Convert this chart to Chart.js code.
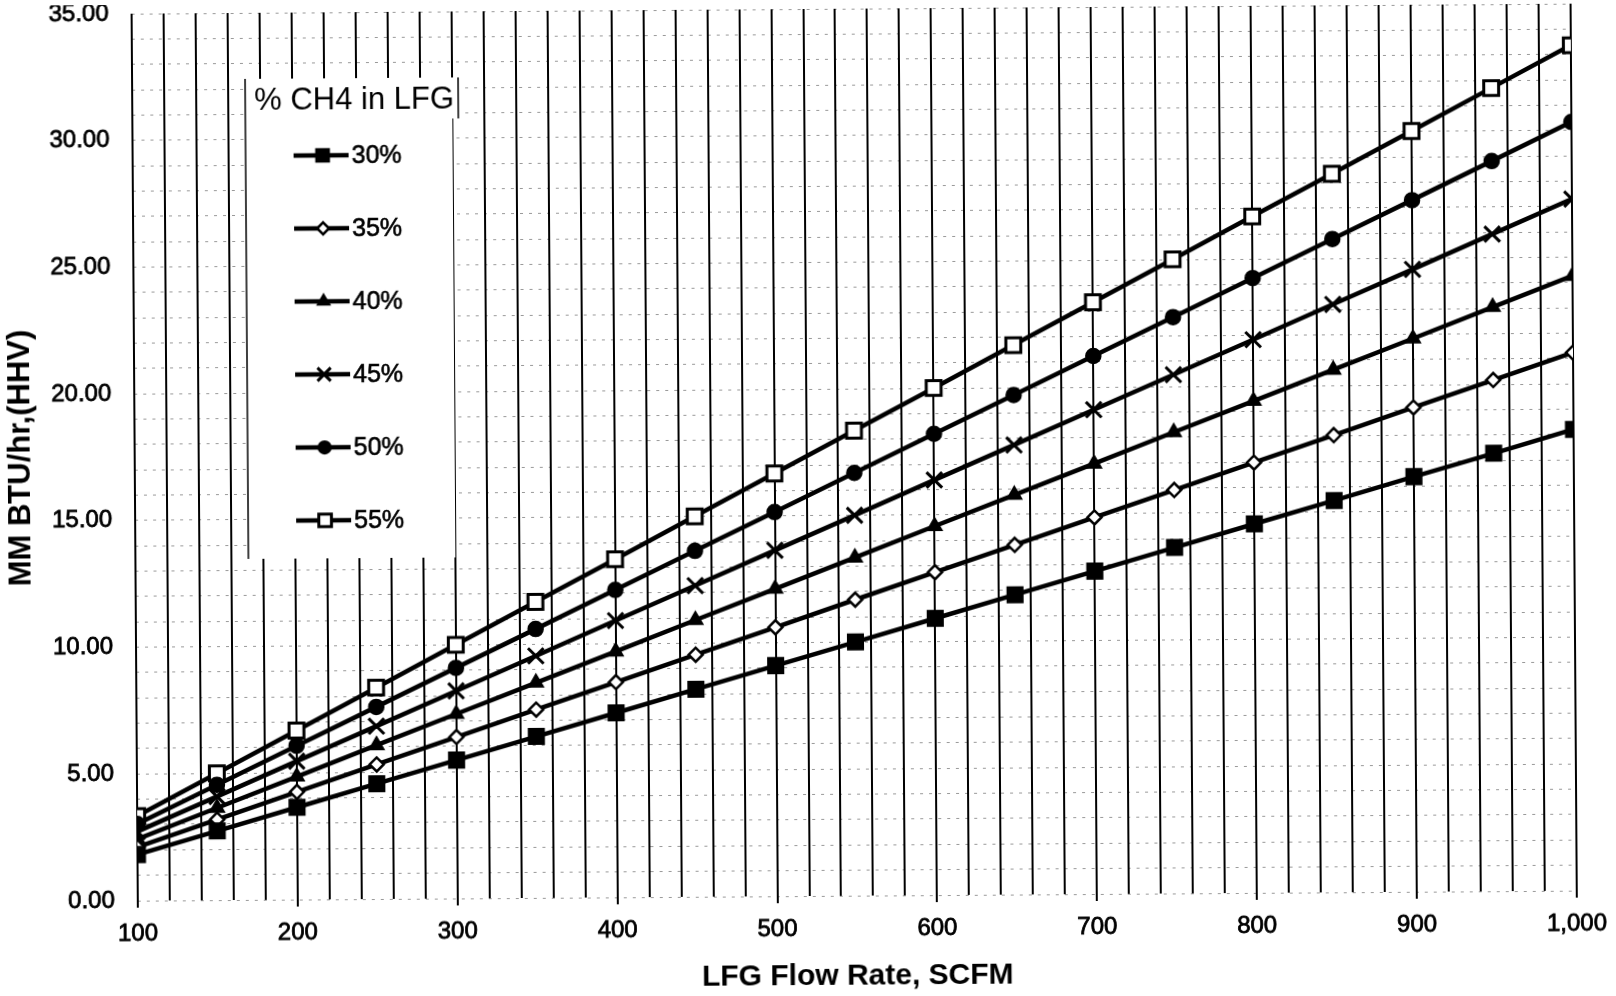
<!DOCTYPE html>
<html>
<head>
<meta charset="utf-8">
<title>LFG Heat Content</title>
<script src="https://cdn.jsdelivr.net/npm/chart.js@4.4.1/dist/chart.umd.min.js"></script>
<style>
  html, body { margin: 0; padding: 0; background: #fff; overflow: hidden; }
  /* the printed sheet sits slightly askew */
  #chart { display: block; transform: rotate(-0.4deg); }
</style>
</head>
<body>
<canvas id="chart" width="1616" height="996"></canvas>
<script>
// LFG flow rate (SCFM)
const flowRates = [100, 150, 200, 250, 300, 350, 400, 450, 500, 550, 600, 650, 700, 750, 800, 850, 900, 950, 1000];

// heat content, MM BTU/hr (HHV), by % methane
const ch4Labels = ['30%', '35%', '40%', '45%', '50%', '55%'];
const ch4_30 = [1.82, 2.73, 3.64, 4.55, 5.46, 6.37, 7.28, 8.19, 9.10, 10.01, 10.92, 11.83, 12.74, 13.65, 14.56, 15.46, 16.38, 17.28, 18.20];
const ch4_35 = [2.12, 3.18, 4.25, 5.31, 6.37, 7.43, 8.49, 9.55, 10.61, 11.68, 12.74, 13.80, 14.86, 15.92, 16.98, 18.04, 19.11, 20.17, 21.23];
const ch4_40 = [2.43, 3.64, 4.85, 6.07, 7.28, 8.49, 9.70, 10.92, 12.13, 13.34, 14.56, 15.77, 16.98, 18.20, 19.41, 20.62, 21.83, 23.05, 24.26];
const ch4_45 = [2.73, 4.09, 5.46, 6.82, 8.19, 9.55, 10.92, 12.28, 13.65, 15.01, 16.38, 17.74, 19.11, 20.47, 21.83, 23.20, 24.56, 25.93, 27.29];
const ch4_50 = [3.03, 4.55, 6.07, 7.58, 9.10, 10.61, 12.13, 13.65, 15.16, 16.68, 18.20, 19.71, 21.23, 22.74, 24.26, 25.78, 27.29, 28.81, 30.33];
const ch4_55 = [3.34, 5.00, 6.67, 8.34, 10.01, 11.68, 13.34, 15.01, 16.68, 18.35, 20.01, 21.68, 23.35, 25.02, 26.69, 28.35, 30.02, 31.69, 33.36];

const FONT = '"Liberation Sans", Arial, Helvetica, sans-serif';
Chart.defaults.font.family = FONT;
Chart.defaults.color = '#000';

// marker look per series
const markers = [
  { style: 'rect',     radius: 11,  fill: '#000', width: 1.5 },
  { style: 'rectRot',  radius: 7,   fill: '#fff', width: 2.5 },
  { style: 'triangle', radius: 8.5, fill: '#000', width: 1.5 },
  { style: 'crossRot', radius: 11,  fill: '#000', width: 3 },
  { style: 'circle',   radius: 7.5, fill: '#000', width: 1.5 },
  { style: 'rect',     radius: 10.5, fill: '#fff', width: 3 }
];

const seriesValues = [ch4_30, ch4_35, ch4_40, ch4_45, ch4_50, ch4_55];

const datasets = seriesValues.map((values, i) => ({
  label: ch4Labels[i],
  data: flowRates.map((f, j) => ({ x: f, y: values[j] })),
  borderColor: '#000',
  borderWidth: 4.5,
  tension: 0,
  pointStyle: markers[i].style,
  pointRadius: markers[i].radius,
  pointBackgroundColor: markers[i].fill,
  pointBorderColor: '#000',
  pointBorderWidth: markers[i].width
}));

// boxed legend sitting inside the plot, upper left
const legendBox = {
  id: 'legendBox',
  afterDraw(chart) {
    const ctx = chart.ctx;
    ctx.save();
    ctx.fillStyle = '#fff';
    ctx.fillRect(248, 75, 214, 41);
    ctx.fillRect(248, 115, 207, 440);

    ctx.strokeStyle = '#000';
    ctx.lineWidth = 1.5;
    ctx.beginPath();
    ctx.moveTo(248, 75);
    ctx.lineTo(248, 555);
    ctx.moveTo(461, 75);
    ctx.lineTo(461, 116);
    ctx.stroke();

    ctx.fillStyle = '#000';
    ctx.textBaseline = 'middle';
    ctx.textAlign = 'left';
    ctx.font = '31px ' + FONT;
    ctx.fillText('% CH4 in LFG', 257, 97);

    ctx.font = '25px ' + FONT;
    chart.data.datasets.forEach((ds, i) => {
      const y = 152 + i * 73;
      ctx.strokeStyle = '#000';
      ctx.lineWidth = 4.5;
      ctx.beginPath();
      ctx.moveTo(296, y);
      ctx.lineTo(351, y);
      ctx.stroke();

      ctx.fillStyle = ds.pointBackgroundColor;
      ctx.lineWidth = ds.pointBorderWidth;
      Chart.helpers.drawPoint(ctx, {
        pointStyle: ds.pointStyle,
        radius: ds.pointRadius * 0.85,
        rotation: 0,
        borderWidth: ds.pointBorderWidth
      }, 325, y);

      ctx.fillStyle = '#000';
      ctx.strokeStyle = '#000';
      ctx.lineWidth = 0.6;
      ctx.fillText(ds.label, 354, y + 1);
      ctx.strokeText(ds.label, 354, y + 1);
    });
    ctx.restore();
  }
};

new Chart(document.getElementById('chart'), {
  type: 'line',
  data: { datasets: datasets },
  options: {
    responsive: false,
    animation: false,
    devicePixelRatio: 1,
    layout: {
      autoPadding: false,
      padding: { top: 9, right: 32, bottom: 0, left: 0 }
    },
    plugins: {
      legend: { display: false },
      tooltip: { enabled: false }
    },
    scales: {
      x: {
        type: 'linear',
        min: 100,
        max: 1000,
        afterFit: (scale) => { scale.height = 100; },
        grid: {
          color: '#000',
          lineWidth: 2,
          drawTicks: true,
          tickLength: 7,
          tickWidth: 2,
          tickColor: (c) => (c.tick && c.tick.value % 100 === 0 ? '#000' : 'rgba(0,0,0,0)')
        },
        border: { display: false },
        ticks: {
          stepSize: 20,
          autoSkip: false,
          maxRotation: 0,
          padding: 12,
          font: { size: 24 },
          textStrokeColor: '#000',
          textStrokeWidth: 0.8,
          callback: (v) => (v % 100 === 0 ? v.toLocaleString('en-US') : '')
        },
        title: {
          display: true,
          text: 'LFG Flow Rate, SCFM',
          font: { size: 30, weight: 'bold' },
          padding: { top: 0, bottom: 1 }
        }
      },
      y: {
        min: 0,
        max: 35,
        afterFit: (scale) => {
          scale.width = 135;
          scale.paddingTop = 0;
          scale.paddingBottom = 0;
        },
        grid: {
          color: 'rgba(0,0,0,0.4)',
          lineWidth: 1,
          drawTicks: true,
          tickLength: 23,
          tickColor: 'rgba(0,0,0,0)'
        },
        border: { display: false, dash: [3, 6] },
        ticks: {
          stepSize: 1,
          autoSkip: false,
          padding: 0,
          font: { size: 24 },
          textStrokeColor: '#000',
          textStrokeWidth: 0.8,
          callback: (v) => (v % 5 === 0 ? v.toFixed(2) : '')
        },
        title: {
          display: true,
          text: 'MM BTU/hr,(HHV)',
          font: { size: 31, weight: 'bold' },
          padding: { top: 3, bottom: 0 }
        }
      }
    }
  },
  plugins: [legendBox]
});
</script>
</body>
</html>
